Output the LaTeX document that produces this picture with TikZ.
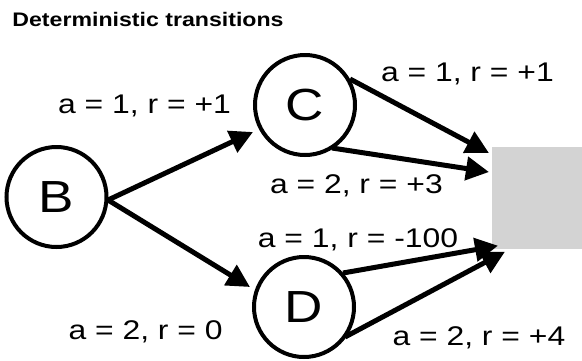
\documentclass[tikz,border=0pt]{standalone}
\usepackage{fontspec}
\setmainfont{Liberation Sans}[FakeStretch=1.18]
\usetikzlibrary{arrows.meta,calc}
\definecolor{termgray}{RGB}{211,211,211}
\begin{document}
\begin{tikzpicture}[x=1pt,y=-1pt,
  state/.style={circle,draw,line width=4pt,minimum size=100pt,inner sep=0pt,
    font=\fontsize{45}{45}\selectfont},
  lab/.style={anchor=base,inner sep=0pt,font=\fontsize{27}{27}\selectfont},
  conn/.style={line width=5pt,-{Triangle[length=23pt,width=23pt]}},
  ]
\useasboundingbox (0,0) rectangle (582,360);
\node[anchor=base,inner sep=0pt,font=\bfseries\fontsize{19.6}{19.6}\selectfont] (title) at (148,26.5) {Deterministic transitions};
\node[fill=termgray,inner sep=0pt,minimum width=90pt,minimum height=101.3pt,anchor=north west] (T) at (492,147) {};
\node[state] (B) at (56.5,197) {B};
\node[state] (C) at (305,105) {C};
\node[state] (D) at (304,307) {D};
\node[lab] (l1) at (144.5,113) {a = 1, r = +1};
\node[lab] (l2) at (467.4,81.7) {a = 1, r = +1};
\node[lab] (l3) at (356.4,193) {a = 2, r = +3};
\node[lab] (l4) at (358,247) {a = 1, r = -100};
\node[lab] (l5) at (145.6,339) {a = 2, r = 0};
\node[lab] (l6) at (478.9,345) {a = 2, r = +4};
\draw[conn] ($(B.center)+(51.5,3)$) -- ($(C.center)+(-52,27)$);
\draw[conn] ($(B.center)+(51.5,3)$) -- ($(D.center)+(-54,-20)$);
\draw[conn] ($(C.center)+(45,-26)$) -- ($(T.north west)+(-3,6)$);
\draw[conn] ($(C.center)+(27,43)$) -- ($(T.north west)+(-3,25)$);
\draw[conn] ($(D.center)+(39,-34)$) -- ($(T.south west)+(6,-3)$);
\draw[conn] ($(D.center)+(41,30)$) -- ($(T.south west)+(13,3)$);
\end{tikzpicture}
\end{document}
